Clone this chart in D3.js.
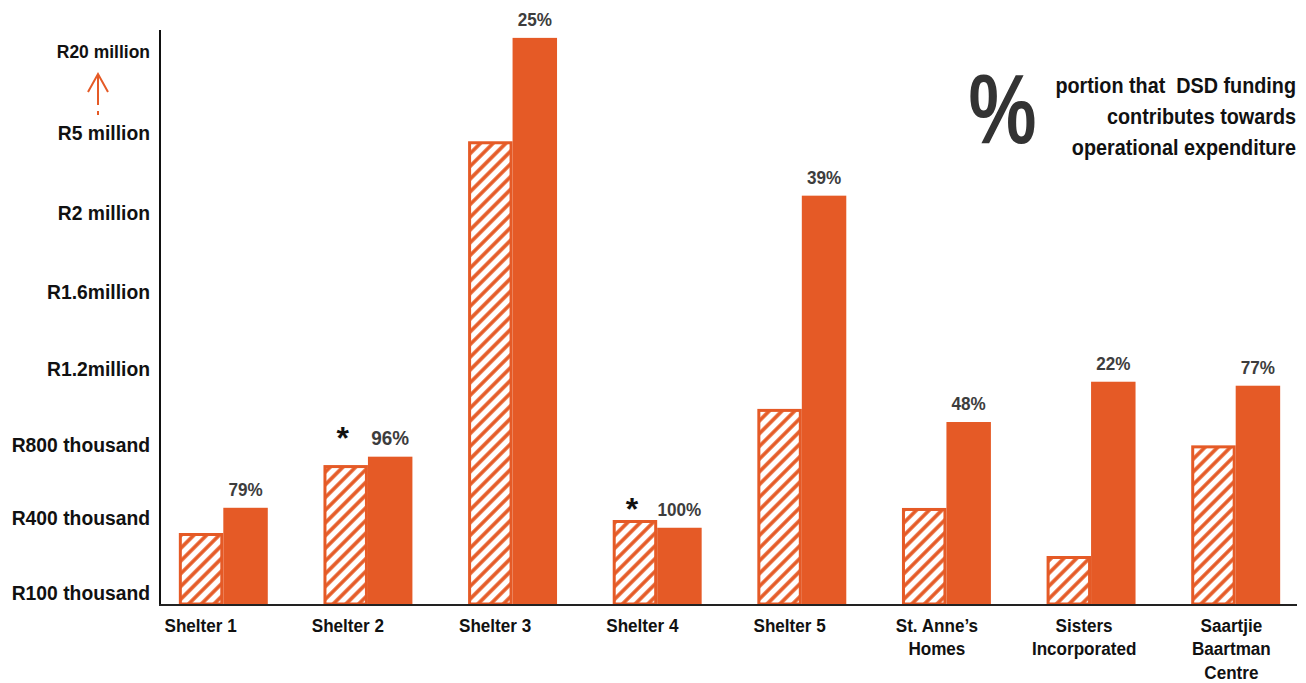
<!DOCTYPE html>
<html>
<head>
<meta charset="utf-8">
<script src="https://cdn.jsdelivr.net/npm/d3@7"></script>
<style>
  body { margin: 0; background: #fff; }
  text { font-family: "Liberation Sans", Arial, sans-serif; font-weight: bold; }
</style>
</head>
<body>
<svg id="chart"></svg>
<script>
// data
const categories = ["Shelter 1", "Shelter 2", "Shelter 3", "Shelter 4", "Shelter 5",
  "St. Anne’s\nHomes", "Sisters\nIncorporated", "Saartjie\nBaartman\nCentre"];
const dsdFunding = [340000, 690000, 4690000, 392000, 990000, 455000, 248000, 798000];        // hatched bars
const operationalExpenditure = [456000, 736000, 22400000, 361000, 2650000, 921000, 1133000, 1112000]; // solid bars
const shareLabels = ["79%", "96%", "25%", "100%", "39%", "48%", "22%", "77%"];
const starred = [false, true, false, true, false, false, false, false];
const tickValues = [100000, 400000, 800000, 1200000, 1600000, 2000000, 5000000, 20000000];
const tickLabels = ["R100 thousand", "R400 thousand", "R800 thousand", "R1.2million",
  "R1.6million", "R2 million", "R5 million", "R20 million"];
const legendLines = ["portion that  DSD funding", "contributes towards", "operational expenditure"];

const width = 1306, height = 683;
const orange = "#e55a26";
const baseY = 604;
const SX = 0.9; // the original uses a narrow face, so squeeze text horizontally

const svg = d3.select("#chart").attr("width", width).attr("height", height);

// text helper: put a squeezed label at (px, py)
function place(sel, px, py, sx = SX) {
  sel.attr("x", 0).attr("y", 0)
    .attr("transform", (d, i) => {
      const tx = typeof px === "function" ? px(d, i) : px;
      const ty = typeof py === "function" ? py(d, i) : py;
      return `translate(${tx},${ty}) scale(${sx},1)`;
    });
}

// hatch pattern for the DSD funding bars
const defs = svg.append("defs");
defs.append("pattern")
  .attr("id", "hatch")
  .attr("patternUnits", "userSpaceOnUse")
  .attr("width", 9).attr("height", 9)
  .attr("patternTransform", "rotate(45)")
  .call(p => {
    p.append("rect").attr("width", 9).attr("height", 9).attr("fill", "#fff");
    p.append("line").attr("x1", 2).attr("y1", 0).attr("x2", 2).attr("y2", 9)
      .attr("stroke", orange).attr("stroke-width", 3.6);
  });

// broken (piecewise) value axis, as in the original
const y = d3.scaleLinear()
  .domain([0, ...tickValues])
  .range([baseY, 593, 518, 445, 369, 292, 213, 133, 51]);

const x = d3.scaleBand()
  .domain(categories)
  .range([151, 1308])
  .paddingInner(0.385)
  .paddingOuter(0.1925);

const x1 = d3.scaleBand()
  .domain(["dsd", "op"])
  .range([0, x.bandwidth()]);

// category labels sit a little left of the bar pairs
const xLabel = d3.scalePoint()
  .domain(categories)
  .range([127, 1305])
  .padding(0.5);

const rows = categories.map((c, i) => ({
  name: c, dsd: dsdFunding[i], op: operationalExpenditure[i],
  share: shareLabels[i], star: starred[i]
}));

// bars
const groups = svg.append("g").selectAll("g")
  .data(rows)
  .join("g")
  .attr("transform", d => `translate(${x(d.name)},0)`);

groups.append("rect")
  .attr("x", x1("dsd") + 1.5)
  .attr("y", d => y(d.dsd) + 1.5)
  .attr("width", x1.bandwidth() - 3)
  .attr("height", d => baseY - y(d.dsd) - 1.5)
  .attr("fill", "url(#hatch)")
  .attr("stroke", orange)
  .attr("stroke-width", 3);

groups.append("rect")
  .attr("x", x1("op"))
  .attr("y", d => y(d.op))
  .attr("width", x1.bandwidth())
  .attr("height", d => baseY - y(d.op))
  .attr("fill", orange);

groups.append("text")
  .attr("text-anchor", "middle")
  .attr("font-size", d => d.share === "96%" ? 21 : 19)
  .attr("fill", "#3d3d3d")
  .text(d => d.share)
  .call(place, x1("op") + x1.bandwidth() / 2, d => y(d.op) - 12);

groups.filter(d => d.star).append("text")
  .attr("text-anchor", "middle")
  .attr("font-size", 32)
  .attr("fill", "#111")
  .text("*")
  .call(place, x1("dsd") + x1.bandwidth() / 2 - 3, d => y(d.op) - 8, 1);

// y axis
const ySX = 0.92;
const yAxis = svg.append("g")
  .attr("transform", "translate(160,0)")
  .call(d3.axisLeft(y).tickValues(tickValues).tickFormat((d, i) => tickLabels[i]).tickSize(0).tickPadding(10));
yAxis.select(".domain").remove();
yAxis.selectAll("text")
  .attr("font-size", d => d === 20000000 ? 19 : 21)
  .attr("fill", "#111")
  .attr("x", -10 / ySX)
  .attr("transform", `scale(${ySX},1)`)
  .attr("font-family", null);

svg.append("line")
  .attr("x1", 160).attr("x2", 160).attr("y1", 30).attr("y2", baseY + 1)
  .attr("stroke", "#111").attr("stroke-width", 2);
svg.append("line")
  .attr("x1", 159).attr("x2", 1297).attr("y1", baseY + 1).attr("y2", baseY + 1)
  .attr("stroke", "#222").attr("stroke-width", 2);

// category labels
svg.append("g").selectAll("text")
  .data(categories)
  .join("text")
  .attr("text-anchor", "middle")
  .attr("font-size", 19)
  .attr("fill", "#111")
  .call(place, d => xLabel(d), 632)
  .selectAll("tspan")
  .data(d => d.split("\n"))
  .join("tspan")
  .attr("x", 0)
  .attr("dy", (d, i) => i ? 23.5 : 0)
  .text(d => d);

// dashed arrow for the axis break
svg.append("line")
  .attr("x1", 98).attr("x2", 98).attr("y1", 76).attr("y2", 115)
  .attr("stroke", orange).attr("stroke-width", 2)
  .attr("stroke-dasharray", "29 6 4");
svg.append("path")
  .attr("d", "M88,92L98,74L108,92")
  .attr("fill", "none").attr("stroke", orange).attr("stroke-width", 2);

// legend note
svg.append("text")
  .attr("text-anchor", "middle")
  .attr("font-size", 98)
  .attr("fill", "#333")
  .text("%")
  .call(place, 1002.5, 143, 0.78);

svg.append("g").selectAll("text")
  .data(legendLines)
  .join("text")
  .attr("text-anchor", "end")
  .attr("font-size", 22)
  .attr("fill", "#111")
  .style("white-space", "pre")
  .text(d => d)
  .call(place, 1296, (d, i) => 93 + i * 31);
</script>
</body>
</html>
